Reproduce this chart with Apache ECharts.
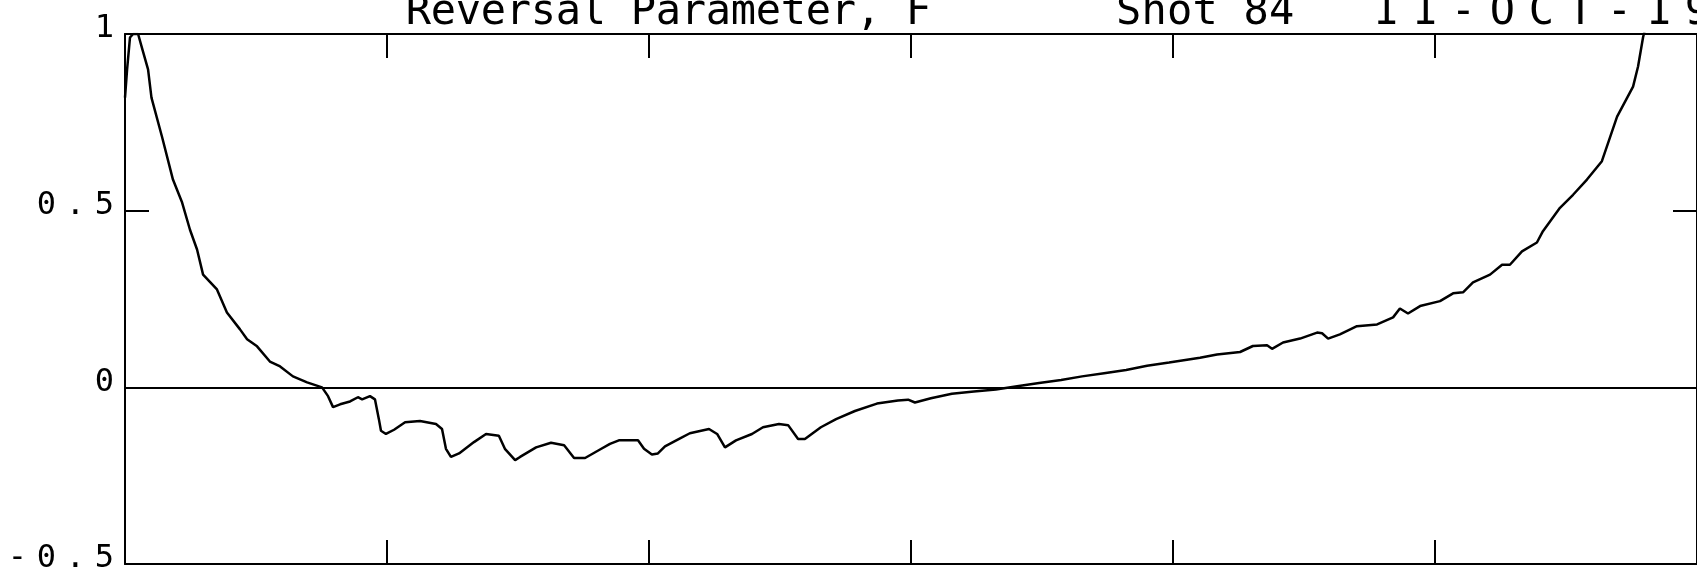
<html>
<head>
<meta charset="utf-8">
<title>Reversal Parameter, F</title>
<script src="https://cdn.jsdelivr.net/npm/echarts@6/dist/echarts.min.js"></script>
<style>
  html, body { margin: 0; padding: 0; background: #fff; }
  #main { width: 1697px; height: 575px; }
</style>
</head>
<body>
<div id="main"></div>
<script type="text/javascript">
// time in tick units (axis has no printed labels), F read off the trace
var timeVals = [
  0, 0.008, 0.019, 0.031, 0.050, 0.065, 0.088, 0.101, 0.141, 0.183,
  0.218, 0.248, 0.275, 0.298, 0.351, 0.389, 0.439, 0.466, 0.504, 0.553,
  0.592, 0.641, 0.695, 0.752, 0.775, 0.794, 0.821, 0.859, 0.889, 0.905,
  0.935, 0.954, 0.969, 0.977, 0.996, 1.027, 1.069, 1.126, 1.187, 1.210,
  1.225, 1.244, 1.275, 1.332, 1.378, 1.427, 1.450, 1.489, 1.508, 1.569,
  1.626, 1.676, 1.714, 1.756, 1.813, 1.851, 1.885, 1.958, 1.981, 2.011,
  2.034, 2.061, 2.115, 2.156, 2.229, 2.260, 2.290, 2.332, 2.393, 2.435,
  2.496, 2.531, 2.569, 2.595, 2.656, 2.714, 2.786, 2.870, 2.950, 2.989,
  3.015, 3.076, 3.156, 3.240, 3.324, 3.405, 3.489, 3.573, 3.653, 3.737,
  3.821, 3.901, 3.985, 4.103, 4.168, 4.256, 4.305, 4.359, 4.378, 4.420,
  4.485, 4.550, 4.569, 4.592, 4.637, 4.702, 4.779, 4.840, 4.866, 4.897,
  4.943, 5.019, 5.069, 5.107, 5.145, 5.210, 5.256, 5.286, 5.332, 5.389,
  5.412, 5.477, 5.527, 5.580, 5.637, 5.695, 5.756, 5.775, 5.794, 5.813
];
var fVals = [
  0.82, 0.90, 0.99, 1.00, 1.00, 0.96, 0.90, 0.82, 0.71, 0.588,
  0.523, 0.446, 0.39, 0.319, 0.277, 0.212, 0.164, 0.136, 0.116, 0.073,
  0.059, 0.031, 0.014, 0.0, -0.025, -0.056, -0.048, -0.040, -0.028, -0.034,
  -0.025, -0.034, -0.090, -0.123, -0.132, -0.120, -0.099, -0.095, -0.104, -0.118,
  -0.174, -0.197, -0.187, -0.155, -0.132, -0.137, -0.174, -0.206, -0.197, -0.170,
  -0.157, -0.164, -0.200, -0.200, -0.176, -0.160, -0.150, -0.150, -0.174, -0.190,
  -0.187, -0.167, -0.146, -0.130, -0.118, -0.132, -0.170, -0.150, -0.132, -0.113,
  -0.104, -0.107, -0.146, -0.146, -0.113, -0.090, -0.067, -0.046, -0.037, -0.035,
  -0.043, -0.031, -0.018, -0.012, -0.006, 0.003, 0.012, 0.021, 0.031, 0.040,
  0.049, 0.061, 0.070, 0.084, 0.093, 0.100, 0.117, 0.119, 0.109, 0.127,
  0.138, 0.155, 0.153, 0.138, 0.150, 0.173, 0.178, 0.198, 0.223, 0.209,
  0.230, 0.244, 0.266, 0.269, 0.297, 0.319, 0.347, 0.347, 0.385, 0.410,
  0.442, 0.508, 0.545, 0.588, 0.640, 0.766, 0.851, 0.908, 0.990, 1.050
];
var yTicks = [-0.5, 0, 0.5, 1];
var titleParts = ['Reversal Parameter, F', 'Shot 84', '11-OCT-19'];

var myChart = echarts.init(document.getElementById('main'));

// plotter style text: every character gets the same box width
function spaced(str) {
  var out = '';
  for (var i = 0; i < str.length; i++) out += '{c|' + str[i] + '}';
  return out;
}

var mono = 'DejaVu Sans Mono';
var points = timeVals.map(function (t, i) { return [t, fVals[i]]; });

var frameLine = { show: true, onZero: false, lineStyle: { color: '#000', width: 2 } };
var frameTick = { show: true, inside: true, length: 24, lineStyle: { color: '#000', width: 2 } };

function xFrame(pos) {
  return {
    type: 'value', position: pos, min: 0, max: 6, interval: 1,
    axisLine: frameLine, axisTick: frameTick,
    axisLabel: { show: false }, splitLine: { show: false }
  };
}

// title sits half cut off at the top edge, as in the scan
function titleText(str, x, pitch) {
  return {
    type: 'text', x: x, y: 34, silent: true,
    style: {
      text: spaced(str), verticalAlign: 'bottom', align: 'left', fill: '#000',
      rich: { c: { width: pitch, align: 'center', fontFamily: mono, fontSize: 42, lineHeight: 42, fill: '#000' } }
    }
  };
}

var option = {
  animation: false,
  backgroundColor: '#fff',
  grid: { left: 125, right: -7, top: 34, bottom: 11, containLabel: false },
  graphic: [
    titleText(titleParts[0], 406, 25),
    titleText(titleParts[1], 1116, 25.5),
    titleText(titleParts[2], 1366, 39)
  ],
  xAxis: [xFrame('bottom'), xFrame('top')],
  yAxis: [
    {
      type: 'value', position: 'left', min: -0.5, max: 1, interval: 0.5,
      axisLine: frameLine, axisTick: frameTick,
      splitLine: { show: false },
      axisLabel: {
        margin: 6, align: 'right', verticalAlign: 'middle', padding: [0, 0, 10, 0],
        formatter: function (v) {
          return yTicks.indexOf(v) >= 0 ? spaced(String(v)) : '';
        },
        rich: { c: { width: 29, align: 'center', fontFamily: mono, fontSize: 32, color: '#000' } }
      }
    },
    {
      type: 'value', position: 'right', min: -0.5, max: 1, interval: 0.5,
      axisLine: frameLine, axisTick: frameTick,
      splitLine: { show: false },
      axisLabel: { show: false }
    }
  ],
  series: [
    {
      type: 'line',
      data: points,
      showSymbol: false,
      clip: true,
      lineStyle: { color: '#000', width: 2.5 },
      markLine: {
        silent: true,
        symbol: ['none', 'none'],
        label: { show: false },
        lineStyle: { color: '#000', width: 2, type: 'solid' },
        data: [{ yAxis: 0 }]
      }
    }
  ]
};

myChart.setOption(option);
</script>
</body>
</html>
